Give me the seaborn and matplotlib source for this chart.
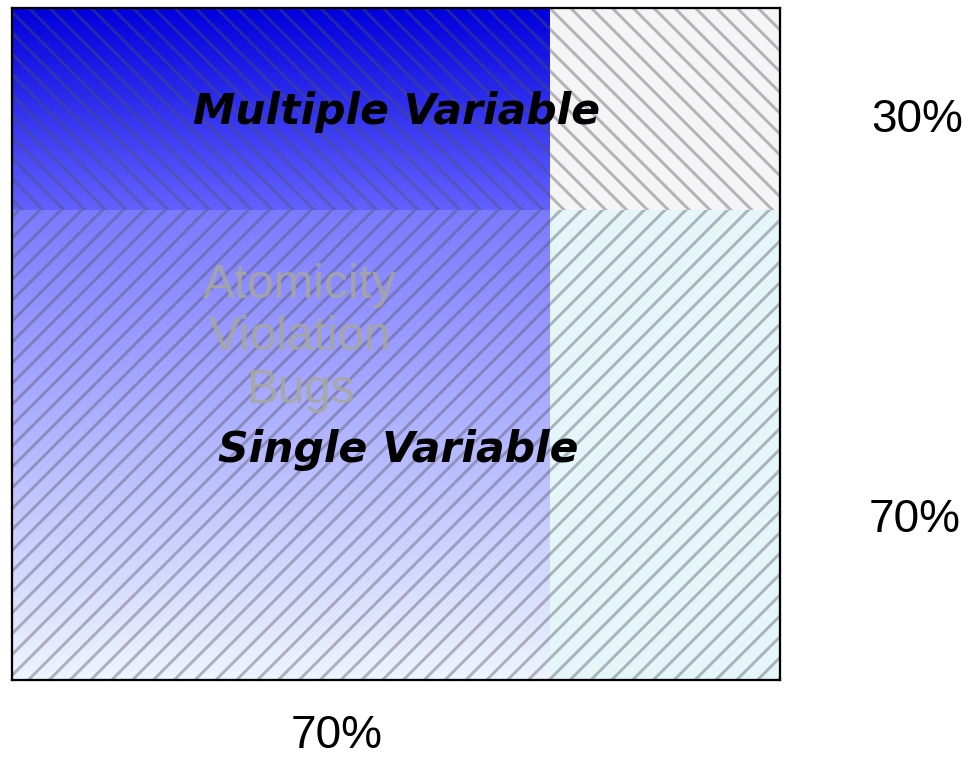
import numpy as np
import matplotlib
matplotlib.use("Agg")
import matplotlib.pyplot as plt
import seaborn as sns
from matplotlib.colors import LinearSegmentedColormap

# Mosaic of atomicity-violation bugs: column share vs. variable count share
columns = ["Atomicity Violation Bugs", "Other"]
column_share = [0.70, 0.30]
rows = ["Single Variable", "Multiple Variable"]
row_share = [0.70, 0.30]
column_label = "70%"
row_labels = ["70%", "30%"]

# (bottom colour, top colour) of each cell's vertical gradient
cell_colors = {
    ("Atomicity Violation Bugs", "Single Variable"): ("#eef5fd", "#7a7aff"),
    ("Atomicity Violation Bugs", "Multiple Variable"): ("#6262ff", "#0000dc"),
    ("Other", "Single Variable"): ("#e5f6f8", "#e5f6f8"),
    ("Other", "Multiple Variable"): ("#f5f5f5", "#f5f5f5"),
}
hatches = {"Single Variable": "//", "Multiple Variable": "\\\\"}

sns.set_theme(style="white")
plt.rcParams["hatch.linewidth"] = 1.7
plt.rcParams["font.family"] = ["DejaVu Sans"]

DPI = 125
fig = plt.figure(figsize=(972 / DPI, 760 / DPI), dpi=DPI)
fig.patch.set_facecolor("white")
ax = fig.add_axes([12 / 972, 80 / 760, 768 / 972, 672 / 760])

left = 0.0
for col, cw in zip(columns, column_share):
    bottom = 0.0
    for row, rh in zip(rows, row_share):
        base = ax.bar(left, rh, width=cw, bottom=bottom, align="edge",
                      color="none", linewidth=0)[0]
        c_bot, c_top = cell_colors[(col, row)]
        cmap = LinearSegmentedColormap.from_list("cell", [c_bot, c_top])
        grad = np.linspace(0, 1, 256).reshape(-1, 1)
        img = ax.imshow(grad, cmap=cmap, origin="lower", aspect="auto",
                        extent=[left, left + cw, bottom, bottom + rh],
                        interpolation="bilinear", zorder=1)
        img.set_clip_path(base)
        ax.bar(left, rh, width=cw, bottom=bottom, align="edge",
               color="none", edgecolor=(0.32, 0.32, 0.38, 0.40),
               linewidth=0, hatch=hatches[row], zorder=2)
        bottom += rh
    left += cw

ax.set_xlim(0, 1)
ax.set_ylim(0, 1)
ax.set_xticks([])
ax.set_yticks([])
for sp in ax.spines.values():
    sp.set_visible(True)
    sp.set_color("black")
    sp.set_linewidth(1.3)
    sp.set_zorder(5)

ax.text(0.375, 0.509, "Atomicity\nViolation\nBugs", ha="center", va="center",
        fontsize=27.5, family="Liberation Sans", color="#a8a89a", alpha=0.85,
        linespacing=1.22, zorder=3)
ax.text(0.501, 0.845, rows[1], ha="center", va="center", fontsize=24.5,
        fontweight="bold", fontstyle="italic", color="black", zorder=4)
ax.text(0.503, 0.342, rows[0], ha="center", va="center", fontsize=24.5,
        fontweight="bold", fontstyle="italic", color="black", zorder=4)

fig.text(917 / 972, 1 - 120 / 760, row_labels[1], ha="center", va="center",
         fontsize=26.5, family="Liberation Sans", color="black")
fig.text(915 / 972, 1 - 520 / 760, row_labels[0], ha="center", va="center",
         fontsize=26.5, family="Liberation Sans", color="black")
fig.text(337 / 972, 1 - 736 / 760, column_label, ha="center", va="center",
         fontsize=26.5, family="Liberation Sans", color="black")

fig.savefig("out.png", dpi=DPI)
